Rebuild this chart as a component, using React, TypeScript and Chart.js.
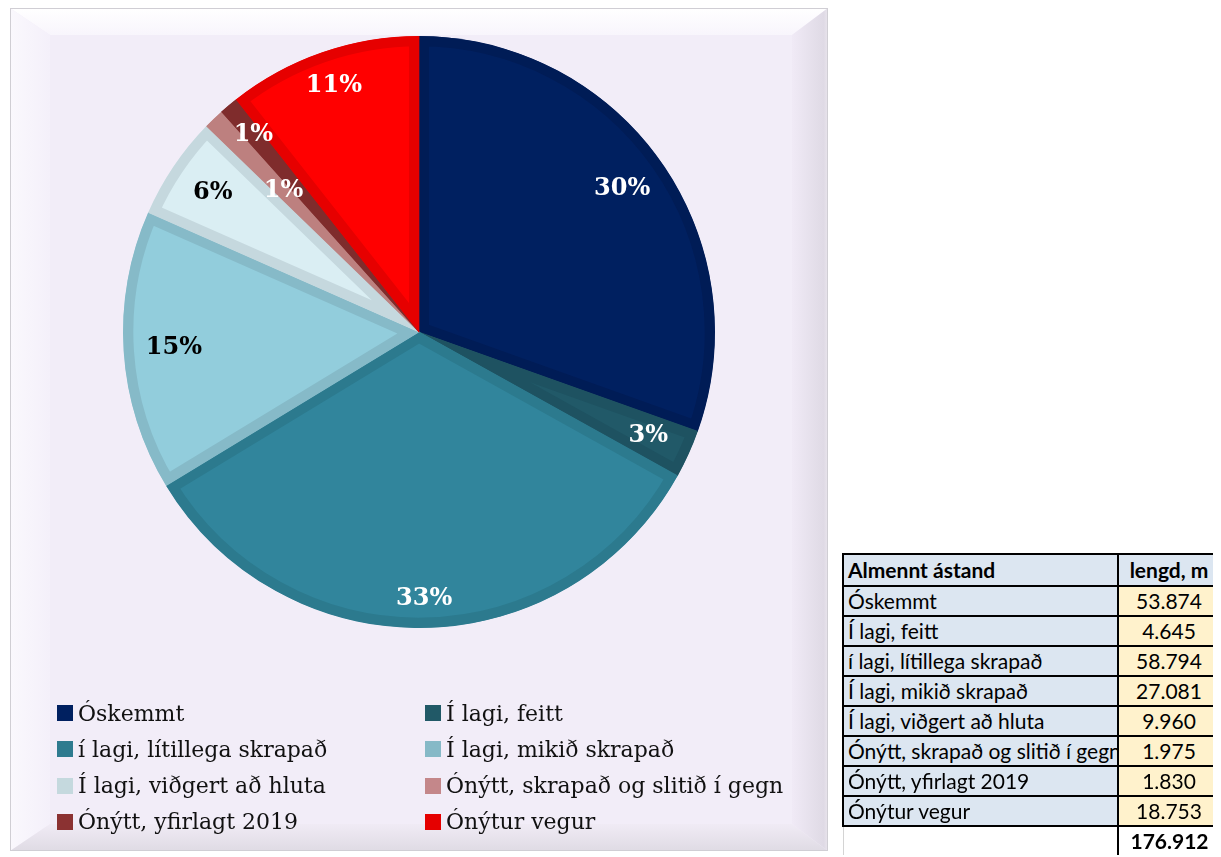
import React, { useEffect, useRef } from "react";
import { Chart, registerables } from "chart.js";
Chart.register(...registerables);

const categories = [
  "Óskemmt",
  "Í lagi, feitt",
  "í lagi, lítillega skrapað",
  "Í lagi, mikið skrapað",
  "Í lagi, viðgert að hluta",
  "Ónýtt, skrapað og slitið í gegn",
  "Ónýtt, yfirlagt 2019",
  "Ónýtur vegur",
];
const lengths = [53874, 4645, 58794, 27081, 9960, 1975, 1830, 18753];
const tableHeader = ["Almennt ástand", "lengd, m"];

const sliceColors = ["#002060", "#215968", "#31859C", "#92CDDC", "#DAEEF3", "#C4898A", "#8A3232", "#FF0000"];
const sliceBorderColors = ["#001C56", "#1E5261", "#2C7A8E", "#86BAC8", "#C5D8DE", "#BD807F", "#7F2C2C", "#E60000"];
const legendColors = ["#002060", "#215967", "#2E7B8F", "#86B9C7", "#C5D9DE", "#C4878A", "#8B3232", "#E50000"];
const labelColors = ["#FFFFFF", "#FFFFFF", "#FFFFFF", "#000000", "#000000", "#FFFFFF", "#FFFFFF", "#FFFFFF"];
const labelRadius = [0.84, 0.85, 0.9, 0.83, 0.84, 0.66, 0.87, 0.88];

const fmt = (n: number) => n.toString().replace(/\B(?=(\d{3})+(?!\d))/g, ".");

const framePlugin = {
  id: "frame",
  beforeDraw(chart: any) {
    const ctx = chart.ctx as CanvasRenderingContext2D;
    const W = chart.width;
    const H = chart.height;
    const t = 27, l = 40, r = 36, b = 27;
    const poly = (pts: number[][], fill: any) => {
      ctx.beginPath();
      ctx.moveTo(pts[0][0], pts[0][1]);
      for (let i = 1; i < pts.length; i++) ctx.lineTo(pts[i][0], pts[i][1]);
      ctx.closePath();
      ctx.fillStyle = fill;
      ctx.fill();
    };
    ctx.save();
    ctx.fillStyle = "#F2EDF8";
    ctx.fillRect(0, 0, W, H);
    let g = ctx.createLinearGradient(0, 0, 0, t);
    g.addColorStop(0, "#FFFFFF");
    g.addColorStop(1, "#F8F5FC");
    poly([[0, 0], [W, 0], [W - r, t], [l, t]], g);
    g = ctx.createLinearGradient(0, 0, l, 0);
    g.addColorStop(0, "#FAF8FD");
    g.addColorStop(1, "#F4F0FA");
    poly([[0, 0], [l, t], [l, H - b], [0, H]], g);
    g = ctx.createLinearGradient(W - r, 0, W, 0);
    g.addColorStop(0, "#F0EAF6");
    g.addColorStop(0.88, "#DFDAE5");
    g.addColorStop(1, "#E9E5ED");
    poly([[W, 0], [W, H], [W - r, H - b], [W - r, t]], g);
    g = ctx.createLinearGradient(0, H - b, 0, H);
    g.addColorStop(0, "#F0EBF5");
    g.addColorStop(1, "#DFDBE4");
    poly([[0, H], [l, H - b], [W - r, H - b], [W, H]], g);
    ctx.strokeStyle = "#D0CED4";
    ctx.lineWidth = 1;
    ctx.strokeRect(0.5, 0.5, W - 1, H - 1);
    ctx.restore();
  },
};

const labelPlugin = {
  id: "pctLabels",
  afterDatasetsDraw(chart: any) {
    const ctx = chart.ctx as CanvasRenderingContext2D;
    const meta = chart.getDatasetMeta(0);
    const data = chart.data.datasets[0].data as number[];
    const total = data.reduce((a, v) => a + v, 0);
    ctx.save();
    ctx.font = 'bold 24px "DejaVu Serif"';
    ctx.textAlign = "center";
    ctx.textBaseline = "middle";
    meta.data.forEach((arc: any, i: number) => {
      const { x, y, startAngle, endAngle, outerRadius } = arc.getProps(
        ["x", "y", "startAngle", "endAngle", "outerRadius"],
        true
      );
      const mid = (startAngle + endAngle) / 2;
      const rr = outerRadius * labelRadius[i];
      ctx.fillStyle = labelColors[i];
      ctx.fillText(Math.round((data[i] / total) * 100) + "%", x + Math.cos(mid) * rr, y + Math.sin(mid) * rr);
    });
    ctx.restore();
  },
};

export default function App() {
  const ref = useRef<HTMLCanvasElement>(null);
  useEffect(() => {
    document.body.style.overflow = "hidden";
    const chart = new Chart(ref.current!, {
      type: "pie",
      data: {
        labels: categories,
        datasets: [
          {
            data: lengths,
            backgroundColor: sliceColors,
            borderColor: sliceBorderColors,
            borderWidth: 10,
            borderAlign: "inner",
            hoverOffset: 0,
          },
        ],
      },
      options: {
        responsive: false,
        animation: false,
        events: [],
        layout: { padding: { left: 113, right: 113, top: 28, bottom: 223 } },
        plugins: { legend: { display: false }, tooltip: { enabled: false } },
      },
      plugins: [framePlugin, labelPlugin],
    });
    return () => chart.destroy();
  }, []);

  const total = lengths.reduce((a, v) => a + v, 0);
  const cellBase: React.CSSProperties = {
    border: "2px solid #000",
    padding: "0 4px",
    whiteSpace: "nowrap",
    overflow: "hidden",
    height: 28,
    lineHeight: "28px",
  };

  return (
    <div style={{ position: "relative", width: 1205, height: 849 }}>
      <canvas ref={ref} width={818} height={843} style={{ position: "absolute", left: 2, top: 0 }} />
      {categories.map((c, i) => {
        const col = i % 2;
        const row = Math.floor(i / 2);
        return (
          <div
            key={c}
            style={{
              position: "absolute",
              left: col ? 417 : 49,
              top: 687 + row * 36.3,
              height: 36,
              display: "flex",
              alignItems: "center",
              fontFamily: '"DejaVu Serif", serif',
              fontSize: 22,
              color: "#111",
              whiteSpace: "nowrap",
            }}
          >
            <span style={{ display: "inline-block", width: 16, height: 16, background: legendColors[i], marginRight: 5 }} />
            {c}
          </div>
        );
      })}
      <table
        style={{
          position: "absolute",
          left: 834,
          top: 545,
          borderCollapse: "collapse",
          tableLayout: "fixed",
          width: 377,
          fontFamily: "Lato, sans-serif",
          fontSize: 21,
          color: "#000",
        }}
      >
        <colgroup>
          <col style={{ width: 275 }} />
          <col style={{ width: 102 }} />
        </colgroup>
        <tbody>
          <tr>
            <td style={{ ...cellBase, background: "#DCE6F1", fontWeight: "bold", height: 30 }}>{tableHeader[0]}</td>
            <td style={{ ...cellBase, background: "#DCE6F1", fontWeight: "bold", textAlign: "center", height: 30 }}>
              {tableHeader[1]}
            </td>
          </tr>
          {categories.map((c, i) => (
            <tr key={c}>
              <td style={{ ...cellBase, background: "#DCE6F1", textOverflow: "clip" }}>{c}</td>
              <td style={{ ...cellBase, background: "#FFF2CC", textAlign: "center" }}>{fmt(lengths[i])}</td>
            </tr>
          ))}
          <tr>
            <td style={{ ...cellBase, border: "none", borderLeft: "1px solid #D4D4D4" }}></td>
            <td style={{ ...cellBase, borderTop: "2px solid #000", borderBottom: "none", borderRight: "none", fontWeight: "bold", textAlign: "center" }}>
              {fmt(total)}
            </td>
          </tr>
        </tbody>
      </table>
    </div>
  );
}
